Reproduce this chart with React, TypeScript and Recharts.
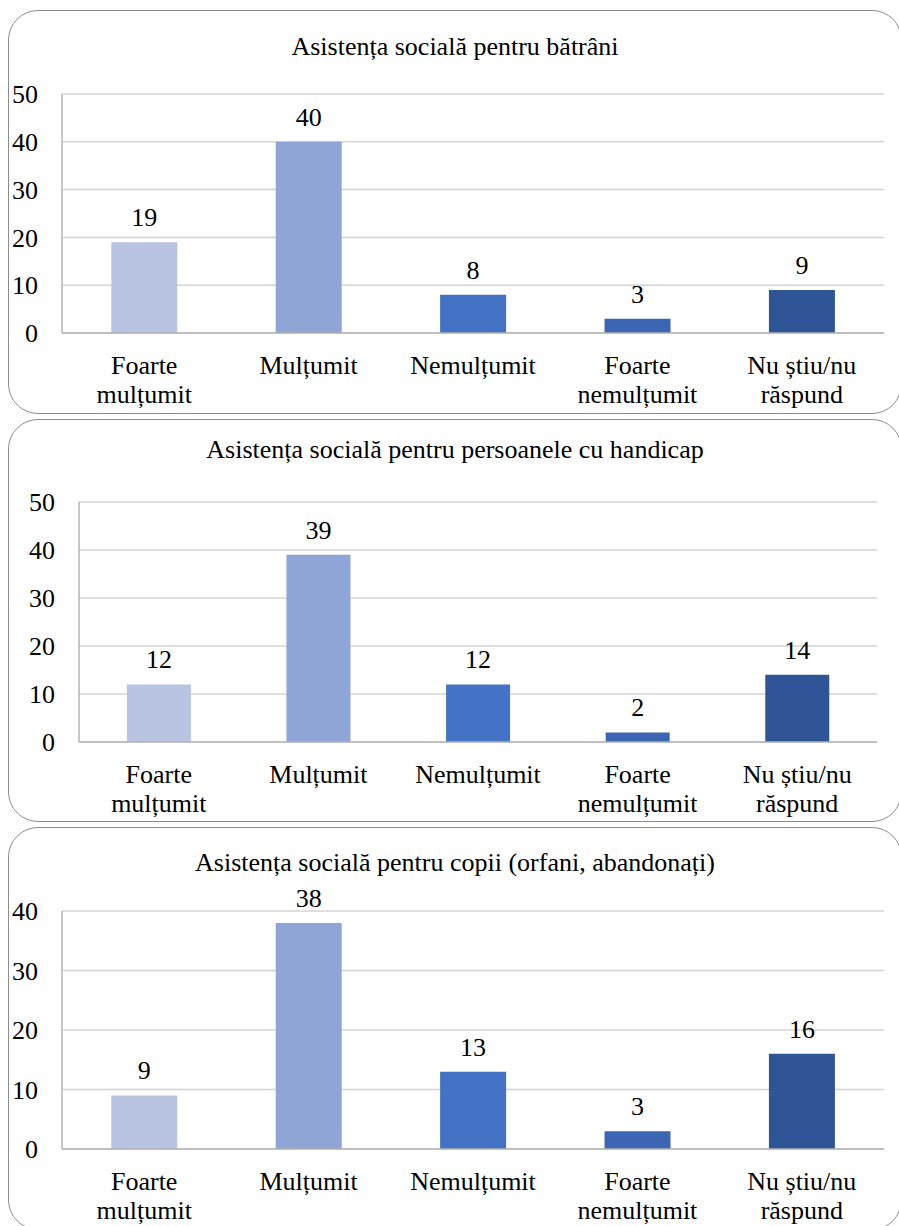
import { BarChart, Bar, XAxis, YAxis, CartesianGrid, Cell, LabelList } from 'recharts';

const categories = ['Foarte\nmulțumit', 'Mulțumit', 'Nemulțumit', 'Foarte\nnemulțumit', 'Nu știu/nu\nrăspund'];
const barColors = ['#B9C3E2', '#8FA5D5', '#4472C4', '#3C66B3', '#2F5597'];

const valuesBatrani = [19, 40, 8, 3, 9];
const valuesHandicap = [12, 39, 12, 2, 14];
const valuesCopii = [9, 38, 13, 3, 16];

const ticks50 = [0, 10, 20, 30, 40, 50];
const ticks40 = [0, 10, 20, 30, 40];

const titles = [
  'Asistența socială pentru bătrâni',
  'Asistența socială pentru persoanele cu handicap',
  'Asistența socială pentru copii (orfani, abandonați)',
];

const FONT = 'Liberation Serif, DejaVu Serif, serif';
const PAGE_W = 899;
const X_AXIS_H = 70;

interface PanelProps {
  title: string;
  values: number[];
  ticks: number[];
  top: number;
  height: number;
  titleBaseline: number;
  plotTop: number;
  plotBottom: number;
  plotLeft: number;
  plotRight: number;
}

function Panel({ title, values, ticks, top, height, titleBaseline, plotTop, plotBottom, plotLeft, plotRight }: PanelProps) {
  const data = categories.map((name, i) => ({ name, value: values[i] }));
  const localAxisY = plotBottom - top;

  const renderTick = (props: any) => {
    const lines = String(props.payload.value).split('\n');
    return (
      <text x={props.x} y={localAxisY + 41} textAnchor="middle" fill="#000" style={{ fontSize: 26, fontFamily: FONT }}>
        {lines.map((line, i) => (
          <tspan key={i} x={props.x} dy={i === 0 ? 0 : 29}>
            {line}
          </tspan>
        ))}
      </text>
    );
  };

  return (
    <>
      <div
        style={{
          position: 'absolute',
          left: 8,
          top,
          width: 894,
          height,
          border: '1px solid #8c8c8c',
          borderRadius: 30,
          boxSizing: 'border-box',
        }}
      />
      <div
        style={{
          position: 'absolute',
          left: 8,
          width: 894,
          top: titleBaseline - 22,
          textAlign: 'center',
          fontFamily: FONT,
          fontSize: 26,
          lineHeight: '26px',
          color: '#000',
          whiteSpace: 'nowrap',
        }}
      >
        {title}
      </div>
      <div style={{ position: 'absolute', left: 0, top, fontFamily: FONT }}>
        <BarChart
          width={PAGE_W}
          height={height}
          data={data}
          barCategoryGap="30%"
          style={{ fontFamily: FONT }}
          margin={{
            top: plotTop - top,
            left: 0,
            right: PAGE_W - plotRight,
            bottom: top + height - plotBottom - X_AXIS_H,
          }}
        >
          <CartesianGrid vertical={false} stroke="#d4d4d4" strokeWidth={1.5} />
          <XAxis
            dataKey="name"
            height={X_AXIS_H}
            tickLine={false}
            axisLine={{ stroke: '#b4b4b4', strokeWidth: 1.5 }}
            interval={0}
            tick={renderTick}
          />
          <YAxis
            width={plotLeft}
            domain={[0, ticks[ticks.length - 1]]}
            ticks={ticks}
            tickLine={false}
            tickMargin={18}
            axisLine={{ stroke: '#b4b4b4', strokeWidth: 1.5 }}
            tick={{ fill: '#000', fontSize: 26, fontFamily: FONT }}
          />
          <Bar dataKey="value" isAnimationActive={false}>
            {data.map((_, i) => (
              <Cell key={i} fill={barColors[i]} />
            ))}
            <LabelList
              dataKey="value"
              position="top"
              offset={16}
              fill="#000"
              fontSize={26}
              fontFamily={FONT}
            />
          </Bar>
        </BarChart>
      </div>
    </>
  );
}

export default function App() {
  return (
    <div
      style={{
        position: 'absolute',
        left: 0,
        top: 0,
        width: PAGE_W,
        height: 1226,
        overflow: 'hidden',
        background: '#fff',
        fontFamily: FONT,
      }}
    >
      <Panel
        title={titles[0]}
        values={valuesBatrani}
        ticks={ticks50}
        top={10}
        height={404}
        titleBaseline={56}
        plotTop={94}
        plotBottom={333}
        plotLeft={62}
        plotRight={884}
      />
      <Panel
        title={titles[1]}
        values={valuesHandicap}
        ticks={ticks50}
        top={419}
        height={403}
        titleBaseline={459}
        plotTop={502}
        plotBottom={742}
        plotLeft={79}
        plotRight={877}
      />
      <Panel
        title={titles[2]}
        values={valuesCopii}
        ticks={ticks40}
        top={827}
        height={403}
        titleBaseline={872}
        plotTop={911}
        plotBottom={1149}
        plotLeft={62}
        plotRight={884}
      />
    </div>
  );
}
